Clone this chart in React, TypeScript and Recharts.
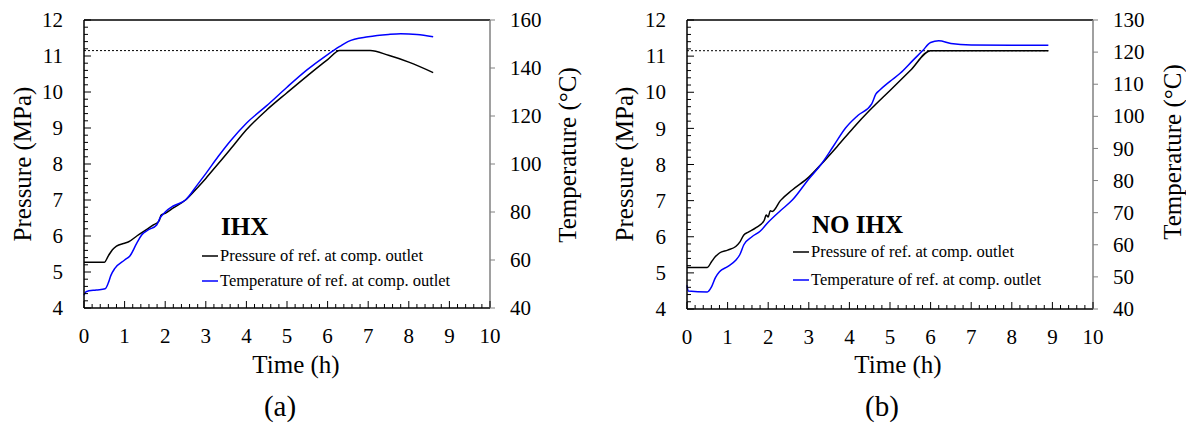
import { ComposedChart, Line, XAxis, YAxis, ReferenceLine, Legend } from "recharts"

const FONT = '"Liberation Serif", "Times New Roman", serif'

// shared axis ticks
const timeTicks = [0, 1, 2, 3, 4, 5, 6, 7, 8, 9, 10]
const pressureTicks = [4, 5, 6, 7, 8, 9, 10, 11, 12]
const tempTicksA = [40, 60, 80, 100, 120, 140, 160]
const tempTicksB = [40, 50, 60, 70, 80, 90, 100, 110, 120, 130]
const setPressure = 11.15

// (a) IHX
const aPressTime = [0, 0.5, 0.6, 0.7, 0.8, 1.0, 1.1, 1.3, 1.5, 1.7, 1.85, 1.9, 2.0, 2.2, 2.5, 2.8, 3.0, 3.3, 3.6, 4.0, 4.5, 5.0, 5.5, 6.0, 6.3, 7.05, 7.5, 8.0, 8.6]
const aPress = [5.27, 5.27, 5.45, 5.62, 5.72, 5.8, 5.84, 6.0, 6.15, 6.3, 6.42, 6.58, 6.63, 6.78, 7.0, 7.35, 7.6, 8.0, 8.4, 8.95, 9.5, 9.98, 10.45, 10.9, 11.15, 11.15, 11.02, 10.83, 10.54]
const aTempTime = [0, 0.05, 0.3, 0.52, 0.6, 0.66, 0.76, 1.0, 1.13, 1.3, 1.42, 1.58, 1.79, 1.87, 2.0, 2.2, 2.5, 2.8, 3.0, 3.3, 3.6, 4.0, 4.5, 5.0, 5.5, 6.0, 6.3, 6.5, 7.0, 7.5, 7.8, 8.2, 8.6]
const aTemp = [45.3, 46.8, 47.5, 48, 50.5, 53.5, 56.5, 60, 61.7, 67, 70.4, 72.5, 74.6, 77.4, 80, 82.5, 85, 91.5, 96, 103, 109.5, 117, 124.3, 132, 139.3, 145.6, 149, 151, 153, 154, 154.3, 154, 153]

// (b) NO IHX
const bPressTime = [0, 0.5, 0.6, 0.7, 0.8, 1.0, 1.2, 1.3, 1.4, 1.5, 1.7, 1.9, 1.95, 2.0, 2.05, 2.1, 2.3, 2.6, 3.0, 3.3, 3.7, 4.1, 4.5, 5.0, 5.5, 6.0, 7.0, 8.0, 8.9]
const bPress = [5.15, 5.15, 5.3, 5.45, 5.55, 5.63, 5.73, 5.85, 6.05, 6.12, 6.25, 6.45, 6.6, 6.55, 6.72, 6.7, 7.0, 7.3, 7.65, 8.0, 8.5, 9.02, 9.5, 10.05, 10.6, 11.15, 11.15, 11.15, 11.15]
const bTempTime = [0, 0.03, 0.5, 0.6, 0.7, 0.8, 1.0, 1.2, 1.3, 1.4, 1.6, 1.8, 2.0, 2.3, 2.6, 3.0, 3.3, 3.6, 3.9, 4.2, 4.55, 4.65, 4.75, 5.0, 5.25, 5.57, 5.8, 6.0, 6.2, 6.5, 7.0, 8.0, 8.9]
const bTemp = [47.4, 45.6, 45.3, 46.8, 49.8, 51.6, 53.2, 55.2, 56.9, 60, 62.5, 64.2, 67, 70.6, 74, 80.5, 85, 90.6, 96.3, 100.2, 103.9, 106.9, 108.2, 110.9, 113.4, 117.5, 120.4, 123, 123.5, 122.7, 122.2, 122.1, 122.1]

const W = 593
const H = 425

const withMinor = (major: number[], parts: number) => {
  const out: number[] = []
  major.forEach((v, i) => {
    out.push(v)
    const next = major[i + 1]
    if (next === undefined) return
    for (let k = 1; k < parts; k++) out.push(+(v + ((next - v) * k) / parts).toFixed(4))
  })
  return out
}
const isMajor = (v: number, major: number[]) => major.some((m) => Math.abs(m - v) < 1e-6)
const toRows = (ts: number[], vs: number[]) => ts.map((t, i) => ({ t, v: vs[i] }))

const txt = { fontFamily: FONT, fill: "#000" }

const LeftTick = ({ x, y, payload }: any) => {
  const major = isMajor(payload.value, pressureTicks)
  return (
    <g>
      <line x1={x} x2={x + (major ? 7 : 4)} y1={y} y2={y} stroke="#000" />
      {major && (
        <text x={x - 21} y={y} dy="0.34em" textAnchor="end" fontSize={21} {...txt}>
          {payload.value}
        </text>
      )}
    </g>
  )
}

const BottomTick = ({ x, y, payload }: any) => {
  const major = isMajor(payload.value, timeTicks)
  return (
    <g>
      <line x1={x} x2={x} y1={y} y2={y - (major ? 7 : 4)} stroke="#000" />
      {major && (
        <text x={x} y={y + 35} textAnchor="middle" fontSize={21} {...txt}>
          {payload.value}
        </text>
      )}
    </g>
  )
}

const RightTick = ({ x, y, payload }: any) => (
  <g>
    <line x1={x} x2={x + 5} y1={y} y2={y} stroke="#808080" />
    <text x={x + 20} y={y} dy="0.34em" textAnchor="start" fontSize={21} {...txt}>
      {payload.value}
    </text>
  </g>
)

type PanelProps = {
  plotLeft: number
  plotRight: number
  plotBottom: number
  pressTime: number[]
  press: number[]
  tempTime: number[]
  temp: number[]
  tempTicks: number[]
  plateauEnd: number
  tag: string
  title: string
  pressTitleX: number
  tempTitleX: number
  tempTitleY: number
  timeTitleX: number
  tagX: number
  legendX: number
  titleY: number
  rowY: number[]
}

const Panel = (p: PanelProps) => {
  const pressRows = toRows(p.pressTime, p.press)
  const tempRows = toRows(p.tempTime, p.temp)
  return (
    <ComposedChart
      width={W}
      height={H}
      margin={{ top: 20, right: 0, bottom: 0, left: 0 }}
      style={{ fontFamily: FONT }}
    >
      <XAxis
        xAxisId="x"
        dataKey="t"
        type="number"
        domain={[0, 10]}
        ticks={withMinor(timeTicks, 5)}
        interval={0}
        height={H - p.plotBottom}
        tickSize={0}
        tickMargin={0}
        tickLine={false}
        tick={<BottomTick />}
        axisLine={{ stroke: "#000", strokeWidth: 1.5 }}
        label={{
          content: () => (
            <g>
              <text x={p.timeTitleX} y={373} textAnchor="middle" fontSize={25} {...txt}>
                Time (h)
              </text>
              <text x={p.tagX} y={416} textAnchor="middle" fontSize={29} {...txt}>
                {p.tag}
              </text>
            </g>
          ),
        }}
      />
      <YAxis
        yAxisId="p"
        orientation="left"
        type="number"
        domain={[4, 12]}
        ticks={withMinor(pressureTicks, 5)}
        interval={0}
        width={p.plotLeft}
        tickSize={0}
        tickMargin={0}
        tickLine={false}
        tick={<LeftTick />}
        axisLine={{ stroke: "#000", strokeWidth: 1.5 }}
        label={{
          content: () => (
            <text
              x={p.pressTitleX}
              y={164}
              textAnchor="middle"
              dominantBaseline="central"
              fontSize={25}
              transform={`rotate(-90 ${p.pressTitleX} 164)`}
              {...txt}
            >
              Pressure (MPa)
            </text>
          ),
        }}
      />
      <YAxis
        yAxisId="t"
        orientation="right"
        type="number"
        domain={[p.tempTicks[0], p.tempTicks[p.tempTicks.length - 1]]}
        ticks={p.tempTicks}
        interval={0}
        width={W - p.plotRight}
        tickSize={0}
        tickMargin={0}
        tickLine={false}
        tick={<RightTick />}
        axisLine={{ stroke: "#808080", strokeWidth: 1.5 }}
        label={{
          content: () => (
            <text
              x={p.tempTitleX}
              y={p.tempTitleY}
              textAnchor="middle"
              dominantBaseline="central"
              fontSize={25}
              transform={`rotate(-90 ${p.tempTitleX} ${p.tempTitleY})`}
              {...txt}
            >
              Temperature (°C)
            </text>
          ),
        }}
      />
      <ReferenceLine xAxisId="x" yAxisId="p" y={12} stroke="#000" strokeWidth={1.5} />
      <ReferenceLine
        xAxisId="x"
        yAxisId="p"
        segment={[
          { x: 0, y: setPressure },
          { x: p.plateauEnd, y: setPressure },
        ]}
        stroke="#000"
        strokeWidth={1}
        strokeDasharray="2 2"
      />
      <Line
        xAxisId="x"
        yAxisId="p"
        data={pressRows}
        dataKey="v"
        name="Pressure of ref. at comp. outlet"
        type="monotone"
        stroke="#000"
        strokeWidth={1.5}
        dot={false}
        isAnimationActive={false}
      />
      <Line
        xAxisId="x"
        yAxisId="t"
        data={tempRows}
        dataKey="v"
        name="Temperature of ref. at comp. outlet"
        type="monotone"
        stroke="#0000ff"
        strokeWidth={1.5}
        dot={false}
        isAnimationActive={false}
      />
      <Legend
        layout="horizontal"
        verticalAlign="middle"
        align="center"
        wrapperStyle={{ left: 0, top: 0, width: W, height: H, pointerEvents: "none" }}
        content={({ payload }: any) => (
          <svg width={W} height={H} style={{ position: "absolute", left: 0, top: 0 }}>
            <text x={p.legendX + 19} y={p.titleY} fontSize={25} fontWeight="bold" {...txt}>
              {p.title}
            </text>
            {(payload ?? []).map((e: any, i: number) => (
              <g key={e.value}>
                <line
                  x1={p.legendX}
                  x2={p.legendX + 16}
                  y1={p.rowY[i]}
                  y2={p.rowY[i]}
                  stroke={e.color}
                  strokeWidth={1.5}
                />
                <text x={p.legendX + 18} y={p.rowY[i]} dy="0.3em" fontSize={16.5} {...txt}>
                  {e.value}
                </text>
              </g>
            ))}
          </svg>
        )}
      />
    </ComposedChart>
  )
}

export default function App() {
  return (
    <div style={{ position: "absolute", left: 0, top: 0, width: 1186, height: 425, background: "#fff" }}>
      <div style={{ position: "absolute", left: 0, top: 0 }}>
        <Panel
          plotLeft={84}
          plotRight={490}
          plotBottom={308}
          pressTime={aPressTime}
          press={aPress}
          tempTime={aTempTime}
          temp={aTemp}
          tempTicks={tempTicksA}
          plateauEnd={6.3}
          tag="(a)"
          title="IHX"
          pressTitleX={22}
          tempTitleX={567}
          tempTitleY={155}
          timeTitleX={296}
          tagX={280}
          legendX={202}
          titleY={235}
          rowY={[256, 281]}
        />
      </div>
      <div style={{ position: "absolute", left: 593, top: 0 }}>
        <Panel
          plotLeft={94}
          plotRight={500}
          plotBottom={309}
          pressTime={bPressTime}
          press={bPress}
          tempTime={bTempTime}
          temp={bTemp}
          tempTicks={tempTicksB}
          plateauEnd={8.9}
          tag="(b)"
          title="NO IHX"
          pressTitleX={31}
          tempTitleX={579}
          tempTitleY={152}
          timeTitleX={305}
          tagX={289}
          legendX={200}
          titleY={233}
          rowY={[252, 280]}
        />
      </div>
    </div>
  )
}
